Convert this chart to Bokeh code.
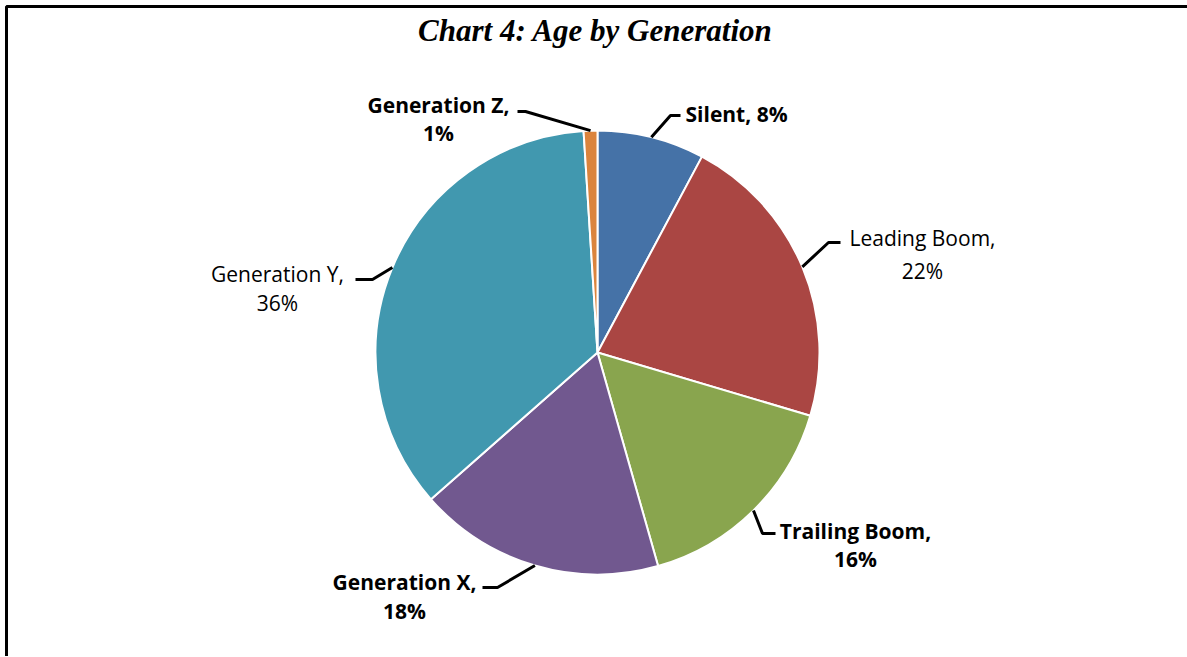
import numpy as np
from bokeh.plotting import figure
from bokeh.models import Range1d
from bokeh.core.properties import value
from bokeh.embed import file_html
from bokeh.resources import INLINE

# ---- data ----
categories = ["Silent", "Leading Boom", "Trailing Boom", "Generation X", "Generation Y", "Generation Z"]
shares = [7.8, 21.8, 16.0, 17.9, 35.5, 1.0]
pct_labels = ["8%", "22%", "16%", "18%", "36%", "1%"]
colors = ["#4572A7", "#AA4643", "#89A54E", "#71588F", "#4198AF", "#DB843D"]
title_text = "Chart 4: Age by Generation"

# ---- layout ----
W, H = 1187, 656


def X(px):
    return px


def Y(py):
    return H - py


CX, CY, R = X(597), Y(352), 222

p = figure(width=W, height=H, x_range=Range1d(0, W), y_range=Range1d(0, H),
           output_backend="svg", toolbar_location=None, min_border=0,
           x_axis_location=None, y_axis_location=None)
p.grid.visible = False
p.outline_line_color = None
p.background_fill_color = "white"
p.border_fill_color = "white"

# white mask at the right edge
p.quad(left=[X(W - 12)], right=[X(W + 20)], bottom=[Y(H + 20)], top=[Y(9)],
       fill_color="white", line_color=None)

# frame border (top and left visible in the reference)
p.line(x=[X(6), X(6), X(W + 30)], y=[Y(H + 30), Y(6), Y(6)], line_color="black", line_width=3)

# pie
vals = np.array(shares, dtype=float)
frac = vals / vals.sum()
cum = np.concatenate([[0.0], np.cumsum(frac)])
start = np.pi / 2 - cum[:-1] * 2 * np.pi
end = np.pi / 2 - cum[1:] * 2 * np.pi
mid = (start + end) / 2
p.wedge(x=CX, y=CY, radius=R, start_angle=start, end_angle=end, direction="clock",
        fill_color=colors, line_color="white", line_width=2)

# label layout: elbow, line end, text center (line1), line2 y, alignment, bold
layout = {
    "Silent":        dict(elbow=(670, 115), end=(680, 115), t1=(685, 113), t2=None, align="left", bold=True),
    "Leading Boom":  dict(elbow=(828, 242), end=(840, 242), t1=(922, 237), t2=270, align="center", bold=False),
    "Trailing Boom": dict(elbow=(762, 533), end=(775, 533), t1=(855, 530), t2=558, align="center", bold=True),
    "Generation X":  dict(elbow=(497, 587), end=(482, 587), t1=(404, 581), t2=610, align="center", bold=True),
    "Generation Y":  dict(elbow=(372, 279), end=(355, 279), t1=(277, 273), t2=302, align="center", bold=False),
    "Generation Z":  dict(elbow=(525, 111), end=(517, 111), t1=(438, 104), t2=132, align="center", bold=True),
}

xs, ys = [], []
for i, cat in enumerate(categories):
    L = layout[cat]
    ax = CX + R * np.cos(mid[i])
    ay = CY + R * np.sin(mid[i])
    xs.append([ax, X(L["elbow"][0]), X(L["end"][0])])
    ys.append([ay, Y(L["elbow"][1]), Y(L["end"][1])])
p.multi_line(xs=xs, ys=ys, line_color="black", line_width=3)

FONT = value("Open Sans")
FS = "21px"
for i, cat in enumerate(categories):
    L = layout[cat]
    style = "bold" if L["bold"] else "normal"
    if L["t2"] is None:
        p.text(x=[X(L["t1"][0])], y=[Y(L["t1"][1])], text=[f"{cat}, {pct_labels[i]}"],
               text_font=FONT, text_font_size=FS, text_font_style=style,
               text_align=L["align"], text_baseline="middle", text_color="black")
    else:
        p.text(x=[X(L["t1"][0])], y=[Y(L["t1"][1])], text=[f"{cat},"],
               text_font=FONT, text_font_size=FS, text_font_style=style,
               text_align="center", text_baseline="middle", text_color="black")
        p.text(x=[X(L["t1"][0])], y=[Y(L["t2"])], text=[pct_labels[i]],
               text_font=FONT, text_font_size=FS, text_font_style=style,
               text_align="center", text_baseline="middle", text_color="black")

# title
p.text(x=[X(595)], y=[Y(30)], text=[title_text], text_font=value("Liberation Serif"),
       text_font_size="31px", text_font_style="bold italic", text_align="center",
       text_baseline="middle", text_color="black")

open("out.html", "w").write(file_html(p, INLINE))
